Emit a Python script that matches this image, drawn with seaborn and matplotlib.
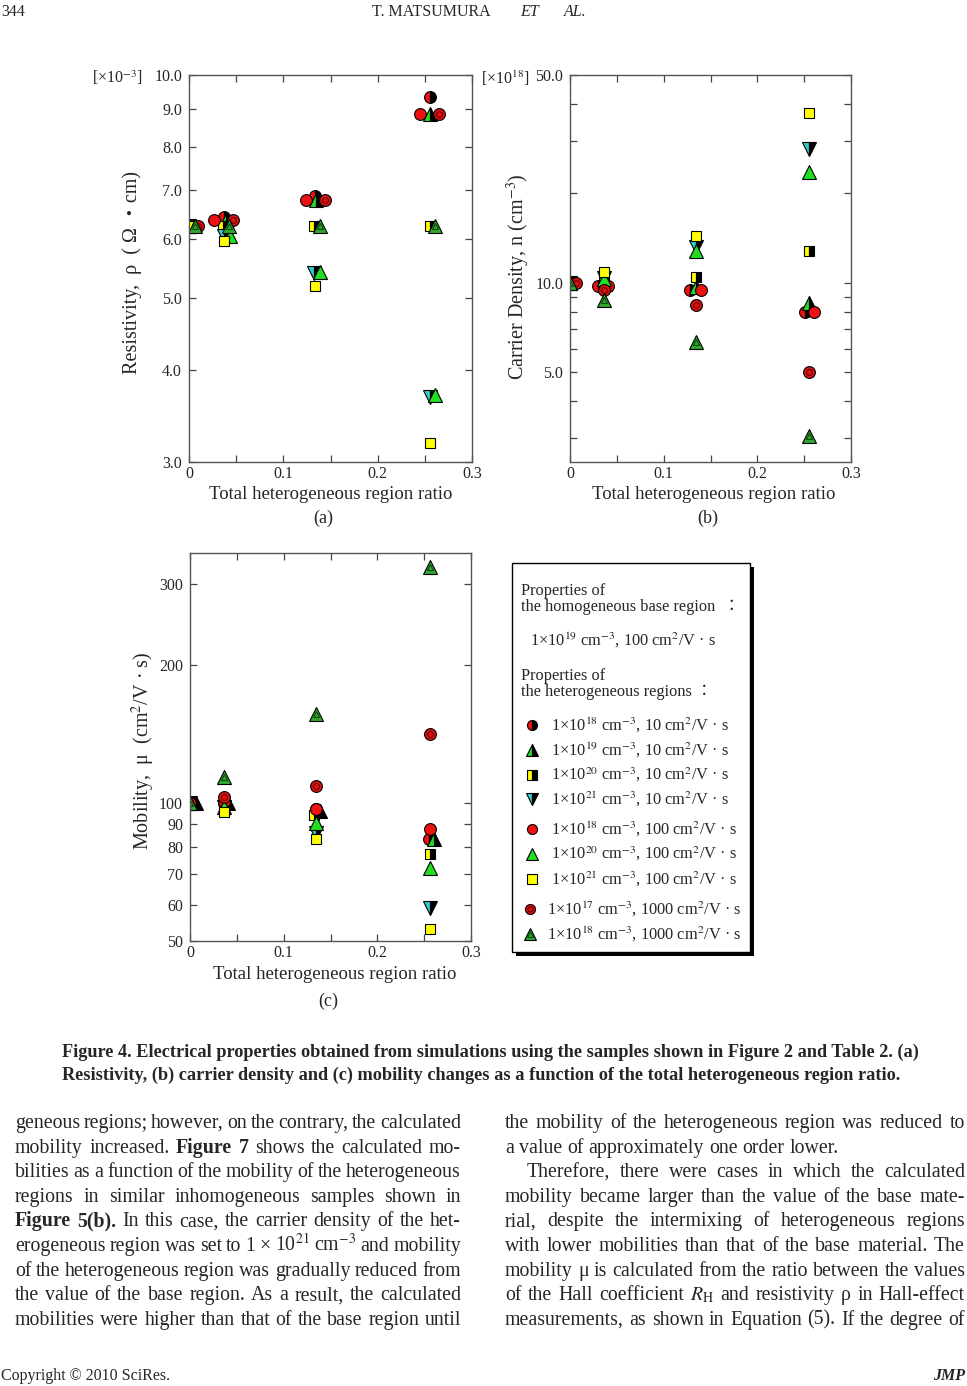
import matplotlib
matplotlib.use("Agg")
import matplotlib.pyplot as plt
from matplotlib.patches import Rectangle
from matplotlib.ticker import FixedLocator, FixedFormatter, NullLocator, NullFormatter
import seaborn as sns

W, H = 967, 1386

# heterogeneous region properties, legend order
series = ["1e18_10", "1e19_10", "1e20_10", "1e21_10",
          "1e18_100", "1e20_100", "1e21_100", "1e17_1000", "1e18_1000"]

legend_labels = [
    "1×10$^{18}$ cm$^{-3}$, 10 cm$^{2}$/V · s",
    "1×10$^{19}$ cm$^{-3}$, 10 cm$^{2}$/V · s",
    "1×10$^{20}$ cm$^{-3}$, 10 cm$^{2}$/V · s",
    "1×10$^{21}$ cm$^{-3}$, 10 cm$^{2}$/V · s",
    "1×10$^{18}$ cm$^{-3}$, 100 cm$^{2}$/V · s",
    "1×10$^{20}$ cm$^{-3}$, 100 cm$^{2}$/V · s",
    "1×10$^{21}$ cm$^{-3}$, 100 cm$^{2}$/V · s",
    "1×10$^{17}$ cm$^{-3}$, 1000 cm$^{2}$/V · s",
    "1×10$^{18}$ cm$^{-3}$, 1000 cm$^{2}$/V · s",
]

# (a) resistivity [x1e-3 ohm cm]
ratio_a = {
    "1e18_10":   [0.000, 0.037, 0.134, 0.256],
    "1e19_10":   [0.000, 0.039, 0.135, 0.256],
    "1e20_10":   [0.000, 0.036, 0.133, 0.255],
    "1e21_10":   [0.000, 0.037, 0.133, 0.255],
    "1e18_100":  [0.000, 0.027, 0.124, 0.245],
    "1e20_100":  [0.000, 0.043, 0.139, 0.261],
    "1e21_100":  [0.000, 0.037, 0.134, 0.256],
    "1e17_1000": [0.010, 0.047, 0.144, 0.265],
    "1e18_1000": [0.006, 0.042, 0.139, 0.261],
}
rho = {
    "1e18_10":   [6.25, 6.42, 6.86, 9.35],
    "1e19_10":   [6.25, 6.37, 6.78, 8.86],
    "1e20_10":   [6.25, 6.25, 6.25, 6.25],
    "1e21_10":   [6.25, 6.06, 5.40, 3.67],
    "1e18_100":  [6.25, 6.37, 6.78, 8.86],
    "1e20_100":  [6.25, 6.06, 5.42, 3.70],
    "1e21_100":  [6.25, 5.97, 5.19, 3.18],
    "1e17_1000": [6.25, 6.37, 6.78, 8.86],
    "1e18_1000": [6.25, 6.25, 6.25, 6.25],
}

# (b) carrier density [x1e18 cm-3]
ratio_b = {
    "1e18_10":   [0.000, 0.030, 0.128, 0.251],
    "1e19_10":   [0.000, 0.037, 0.134, 0.255],
    "1e20_10":   [0.000, 0.036, 0.134, 0.255],
    "1e21_10":   [0.000, 0.036, 0.134, 0.255],
    "1e18_100":  [0.000, 0.041, 0.140, 0.260],
    "1e20_100":  [0.000, 0.036, 0.134, 0.255],
    "1e21_100":  [0.000, 0.036, 0.134, 0.255],
    "1e17_1000": [0.006, 0.036, 0.134, 0.255],
    "1e18_1000": [0.000, 0.036, 0.134, 0.255],
}
density = {
    "1e18_10":   [10.0, 9.77, 9.50, 8.00],
    "1e19_10":   [10.0, 9.90, 9.70, 8.57],
    "1e20_10":   [10.0, 10.2, 10.5, 12.8],
    "1e21_10":   [10.0, 10.4, 13.2, 28.2],
    "1e18_100":  [10.0, 9.77, 9.50, 8.00],
    "1e20_100":  [10.0, 10.3, 12.8, 23.6],
    "1e21_100":  [10.0, 10.9, 14.4, 37.3],
    "1e17_1000": [10.0, 9.48, 8.43, 5.00],
    "1e18_1000": [10.0, 8.77, 6.34, 3.06],
}

# (c) mobility [cm2/V s]
ratio_c = {
    "1e18_10":   [0.000, 0.036, 0.134, 0.255],
    "1e19_10":   [0.006, 0.041, 0.139, 0.261],
    "1e20_10":   [0.000, 0.036, 0.132, 0.256],
    "1e21_10":   [0.000, 0.036, 0.134, 0.256],
    "1e18_100":  [0.000, 0.036, 0.134, 0.256],
    "1e20_100":  [0.000, 0.036, 0.134, 0.256],
    "1e21_100":  [0.000, 0.036, 0.134, 0.256],
    "1e17_1000": [0.000, 0.036, 0.134, 0.256],
    "1e18_1000": [0.000, 0.036, 0.134, 0.256],
}
mobility = {
    "1e18_10":   [100, 100, 97.0, 83.2],
    "1e19_10":   [100, 100, 96.0, 83.2],
    "1e20_10":   [100, 98.0, 94.0, 77.5],
    "1e21_10":   [100, 98.0, 86.1, 59.0],
    "1e18_100":  [100, 100.5, 97.0, 87.9],
    "1e20_100":  [100, 98.0, 90.5, 72.0],
    "1e21_100":  [100, 95.6, 83.6, 53.1],
    "1e17_1000": [100, 103, 109, 141],
    "1e18_1000": [100, 113.8, 156, 326],
}

caption = [
    "Figure 4. Electrical properties obtained from simulations using the samples shown in Figure 2 and Table 2. (a)",
    "Resistivity, (b) carrier density and (c) mobility changes as a function of the total heterogeneous region ratio.",
]

# body text, *word* = bold
left_col = [
    "geneous regions; however, on the contrary, the calculated",
    "mobility increased. *Figure* *7* shows the calculated mo-",
    "bilities as a function of the mobility of the heterogeneous",
    "regions in similar inhomogeneous samples shown in",
    "*Figure* *5(b)*. In this case, the carrier density of the het-",
    "erogeneous region was set to 1 × 10$^{21}$ cm$^{-3}$ and mobility",
    "of the heterogeneous region was gradually reduced from",
    "the value of the base region. As a result, the calculated",
    "mobilities were higher than that of the base region until",
]
right_col = [
    "the mobility of the heterogeneous region was reduced to",
    "a value of approximately one order lower.",
    "Therefore, there were cases in which the calculated",
    "mobility became larger than the value of the base mate-",
    "rial, despite the intermixing of heterogeneous regions",
    "with lower mobilities than that of the base material. The",
    "mobility μ is calculated from the ratio between the values",
    "of the Hall coefficient $R_\\mathrm{H}$ and resistivity ρ in Hall-effect",
    "measurements, as shown in Equation (5). If the degree of",
]

sns.set_style("ticks")
plt.rcParams["font.family"] = ["Liberation Serif", "Noto Sans CJK JP"]
plt.rcParams["mathtext.fontset"] = "stix"

RED, GREEN, YEL, CYAN = "#ee1111", "#22dd22", "#ffff00", "#33cccc"
styles = {
    "1e18_10":   dict(marker="o", mfc=RED, alt="k", ms=8.5),
    "1e19_10":   dict(marker="^", mfc=GREEN, alt="k", ms=9.5),
    "1e20_10":   dict(marker="s", mfc=YEL, alt="k", ms=7.8),
    "1e21_10":   dict(marker="v", mfc=CYAN, alt="k", ms=9.5),
    "1e18_100":  dict(marker="o", mfc=RED, ms=8.5),
    "1e20_100":  dict(marker="^", mfc=GREEN, ms=9.5),
    "1e21_100":  dict(marker="s", mfc=YEL, ms=7.8),
    "1e17_1000": dict(marker="o", mfc="#dd1111", ms=8.5, inner="#6a0000"),
    "1e18_1000": dict(marker="^", mfc="#2fa82f", ms=9.5, inner="#0b4a0b"),
}

fig = plt.figure(figsize=(W / 100, H / 100), dpi=100)
page = fig.add_axes([0, 0, 1, 1])
page.set_xlim(0, W)
page.set_ylim(H, 0)
page.axis("off")


def box(l, t, r, b):
    return [l / W, 1 - b / H, (r - l) / W, (b - t) / H]


def put(ax, xs, ys, st, scale=1.0):
    kw = dict(marker=st["marker"], markersize=st["ms"] * scale, markerfacecolor=st["mfc"],
              markeredgecolor="k", markeredgewidth=0.8, linestyle="", color=st["mfc"])
    if "alt" in st:
        kw.update(fillstyle="left", markerfacecoloralt=st["alt"])
    sns.lineplot(x=xs, y=ys, ax=ax, estimator=None, sort=False, legend=False, **kw)
    if "inner" in st:
        sns.lineplot(x=xs, y=ys, ax=ax, estimator=None, sort=False, legend=False,
                     marker=st["marker"], markersize=st["ms"] * scale * 0.5,
                     markerfacecolor="none", markeredgecolor=st["inner"],
                     markeredgewidth=0.8, linestyle="")


def style_axes(ax, ylim, major, labels, minor):
    ax.set_yscale("log")
    ax.set_ylim(*ylim)
    ax.set_xlim(0, 0.3)
    ax.yaxis.set_major_locator(FixedLocator(major))
    ax.yaxis.set_major_formatter(FixedFormatter(labels))
    ax.yaxis.set_minor_locator(FixedLocator(minor) if minor else NullLocator())
    ax.yaxis.set_minor_formatter(NullFormatter())
    ax.xaxis.set_major_locator(FixedLocator([0, 0.1, 0.2, 0.3]))
    ax.xaxis.set_major_formatter(FixedFormatter(["0", "0.1", "0.2", "0.3"]))
    ax.xaxis.set_minor_locator(FixedLocator([0.05, 0.15, 0.25]))
    ax.tick_params(which="both", direction="in", top=True, right=True, length=5,
                   width=0.9, color="#444444", labelsize=11.5)
    ax.tick_params(axis="y", pad=5)
    ax.tick_params(axis="x", pad=3)
    for s in ax.spines.values():
        s.set_color("#555555")
        s.set_linewidth(1.0)


panels = [
    (box(189, 75, 472, 462), ratio_a, rho, (3, 10), [3, 4, 5, 6, 7, 8, 9, 10],
     ["3.0", "4.0", "5.0", "6.0", "7.0", "8.0", "9.0", "10.0"], None,
     "Resistivity,  ρ  ( Ω ・cm)", (-0.2, 0.49), (0.502, -0.085)),
    (box(570, 75, 851, 462), ratio_b, density, (2.5, 50), [5, 10, 50],
     ["5.0", "10.0", "50.0"], [3, 4, 6, 7, 8, 9, 20, 30, 40],
     "Carrier Density, n (cm$^{-3}$)", (-0.182, 0.48), (0.512, -0.085)),
    (box(190, 553, 471, 941), ratio_c, mobility, (50, 350), [50, 60, 70, 80, 90, 100, 200, 300],
     ["50", "60", "70", "80", "90", "100", "200", "300"], None,
     "Mobility,  μ  (cm$^{2}$/V · s)", (-0.165, 0.49), (0.516, -0.087)),
]

for rect, xs, ys, ylim, major, labels, minor, ylab, ypos, xpos in panels:
    ax = fig.add_axes(rect)
    for key in series:
        put(ax, xs[key], ys[key], styles[key])
    style_axes(ax, ylim, major, labels, minor)
    ax.set_ylabel(ylab, fontsize=14.5, va="center")
    ax.yaxis.set_label_coords(*ypos)
    ax.set_xlabel("Total heterogeneous region ratio", fontsize=13.5, va="center")
    ax.xaxis.set_label_coords(*xpos)

page.text(92, 78, "[×10$^{-3}$]", fontsize=11.5, va="center", ha="left")
page.text(481, 78, "[×10$^{18}$]", fontsize=11.5, va="center", ha="left")
for x, y, s in [(323, 518, "(a)"), (708, 518, "(b)"), (328, 1001, "(c)")]:
    page.text(x, y, s, fontsize=13, ha="center", va="center")

# legend box with drop shadow
page.add_patch(Rectangle((516, 567), 238, 389, facecolor="black", edgecolor="none", zorder=1))
page.add_patch(Rectangle((512, 563), 238, 389, facecolor="white", edgecolor="black", lw=1, zorder=2))
lg = dict(fontsize=11.8, va="center", ha="left", zorder=3)
page.text(521, 591, "Properties of", **lg)
page.text(521, 607, "the homogeneous base region  ：", **lg)
page.text(530, 640, "1×10$^{19}$ cm$^{-3}$, 100 cm$^{2}$/V · s", **lg)
page.text(521, 676, "Properties of", **lg)
page.text(521, 692, "the heterogeneous regions ：", **lg)
entry_y = [725, 750, 775, 799, 829, 854, 879, 909, 934]
for i, key in enumerate(series):
    mx, tx = (532, 551) if i < 7 else (530, 547)
    put(page, [mx], [entry_y[i]], styles[key], scale=0.85)
    page.text(tx, entry_y[i], legend_labels[i], **lg)
for ln in page.get_lines():
    ln.set_zorder(4)

renderer = fig.canvas.get_renderer()


def width_of(s, size, weight="normal", style="normal"):
    t = page.text(0, 0, s, fontsize=size, fontweight=weight, fontstyle=style)
    w = t.get_window_extent(renderer).width
    t.remove()
    return w


# header and footer
page.text(1, 12, "344", fontsize=11.5, va="center", ha="left")
page.text(372, 12, "T. MATSUMURA", fontsize=11.5, va="center", ha="left")
page.text(520, 12, "ET", fontsize=11.5, va="center", ha="left", fontstyle="italic")
page.text(564, 12, "AL.", fontsize=11.5, va="center", ha="left", fontstyle="italic")
page.text(1, 1376, "Copyright © 2010 SciRes.", fontsize=11.5, va="center", ha="left")
page.text(965, 1376, "JMP", fontsize=11.5, va="center", ha="right",
          fontweight="bold", fontstyle="italic")

# caption, bold, fitted to the printed width
cap_size = 12 * 846 / width_of(caption[0], 12, "bold")
page.text(62, 1052, caption[0], fontsize=cap_size, fontweight="bold", va="center", ha="left")
page.text(62, 1075, caption[1], fontsize=cap_size, fontweight="bold", va="center", ha="left")


def words_of(line):
    out = []
    for w in line.split():
        bold = w.startswith("*")
        out.append((w.replace("*", ""), "bold" if bold else "normal"))
    return out


def natural(line, size):
    ws = words_of(line)
    space = width_of("a a", size) - width_of("aa", size)
    return sum(width_of(w, size, b) for w, b in ws) + (len(ws) - 1) * space * 0.75


col_l, col_r = (15, 461), (505, 965)
fits = [(col_l[1] - col_l[0]) / natural(l, 12) for l in left_col] + \
       [(col_r[1] - col_r[0]) / natural(l, 12) for i, l in enumerate(right_col) if i not in (1, 2)]
body_size = 12 * min(fits)


def set_line(line, x0, x1, y, size, justify=True):
    objs, widths = [], []
    for w, b in words_of(line):
        t = page.text(0, y, w, fontsize=size, fontweight=b, va="baseline", ha="left")
        objs.append(t)
        widths.append(t.get_window_extent(renderer).width)
    if justify and len(objs) > 1:
        gap = (x1 - x0 - sum(widths)) / (len(objs) - 1)
    else:
        gap = width_of("a a", size) - width_of("aa", size)
    x = x0
    for t, w in zip(objs, widths):
        t.set_x(x)
        x += w + gap


line_y = [1123 + 24.6 * i for i in range(9)]
for i, line in enumerate(left_col):
    set_line(line, col_l[0], col_l[1], line_y[i] + 5, body_size)
for i, line in enumerate(right_col):
    x0 = col_r[0] + (22 if i == 2 else 0)
    set_line(line, x0, col_r[1], line_y[i] + 5, body_size, justify=(i != 1))

fig.savefig("out.png", dpi=100)
